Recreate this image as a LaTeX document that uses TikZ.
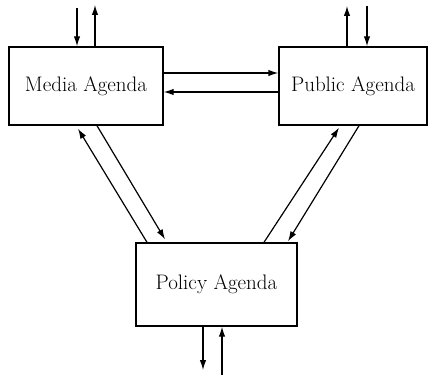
\documentclass[tikz,border=0pt]{standalone}
\usetikzlibrary{arrows.meta,calc}
\begin{document}
\begin{tikzpicture}[x=1pt,y=-1pt,
  agenda/.style={draw,line width=1.4pt,rectangle,inner sep=0pt,
    font=\fontsize{21}{25}\selectfont},
  flow/.style={line width=1.2pt,-{Latex[length=10pt,width=6.5pt]}}]
\useasboundingbox (0,0) rectangle (431,382);

\node[agenda,minimum width=154pt,minimum height=78pt] (media)  at (86,86)    {Media Agenda};
\node[agenda,minimum width=148pt,minimum height=78pt] (public) at (353,86)   {Public Agenda};
\node[agenda,minimum width=161pt,minimum height=83pt] (policy) at (216.5,284.5) {Policy Agenda};

% outside inputs and outputs
\coordinate (m-in)  at (77,8);
\coordinate (m-out) at (95,5);
\coordinate (p-out) at (347,6);
\coordinate (p-in)  at (367,6);
\coordinate (y-out) at (203,370);
\coordinate (y-in)  at (222,375);

\draw[flow] (m-in) -- (m-in |- media.north);
\draw[flow] (m-out |- media.north) -- (m-out);
\draw[flow] (p-out |- public.north) -- (p-out);
\draw[flow] (p-in) -- (p-in |- public.north);
\draw[flow] (y-out |- policy.south) -- (y-out);
\draw[flow] (y-in) -- (y-in |- policy.south);

% media <-> public
\draw[flow] ($(media.east)+(0,-13)$) -- ($(public.west)+(0,-13)$);
\draw[flow] ($(public.west)+(0,6)$) -- ($(media.east)+(0,6)$);

% media <-> policy
\draw[flow] ($(policy.north)+(-69.5,0)$) -- ($(media.south)+(-8,3)$);
\draw[flow] ($(media.south)+(11,0)$) -- ($(policy.north)+(-51.5,-3)$);

% public <-> policy
\draw[flow] ($(policy.north)+(47.5,0)$) -- ($(public.south)+(-14,2)$);
\draw[flow] ($(public.south)+(6,0)$) -- ($(policy.north)+(71.5,-1)$);
\end{tikzpicture}
\end{document}
